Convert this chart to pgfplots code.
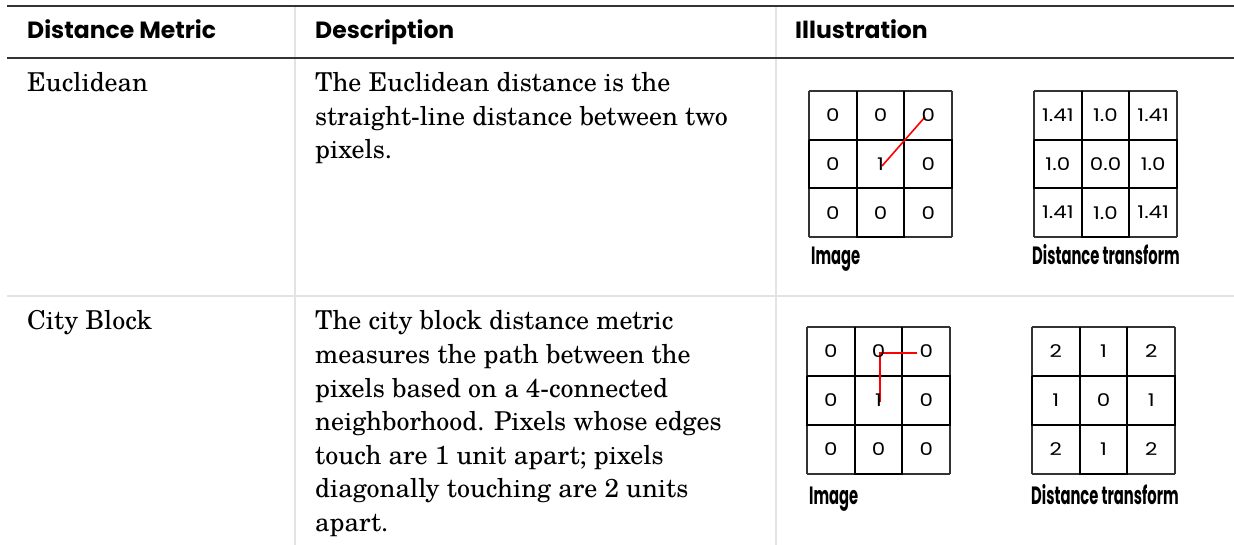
\documentclass[border=0pt]{standalone}
\usepackage{pgfplots}
\usepackage{pgfplotstable}
\pgfplotsset{compat=1.18}
\usepackage{fontspec}
\setmainfont{texgyreschola}[Extension=.otf,UprightFont=*-regular,BoldFont=*-bold,ItalicFont=*-italic,BoldItalicFont=*-bolditalic]
\newfontfamily\headfont{Poppins}
\newfontfamily\labfont{Poppins}[FakeStretch=0.59]
\newfontfamily\cellfont{Poppins}[FakeStretch=1.22]
\definecolor{rulec}{HTML}{333333}
\definecolor{sepc}{HTML}{E3E3E3}
\newcommand\desc{\fontsize{26}{33.5}\selectfont}
\newcommand\hd{\headfont\bfseries\fontsize{23.5}{26}\selectfont}
\newcommand\lab{\labfont\bfseries\fontsize{25}{28}\selectfont}

\pgfplotstableread{
x y lab
832.8 115.3 0
880.5 115.3 0
928.2 115.3 0
832.8 164.0 0
880.5 164.0 1
928.2 164.0 0
832.8 212.7 0
880.5 212.7 0
928.2 212.7 0
1057.8 115.3 1.41
1105.5 115.3 1.0
1153.2 115.3 1.41
1057.8 164.0 1.0
1105.5 164.0 0.0
1153.2 164.0 1.0
1057.8 212.7 1.41
1105.5 212.7 1.0
1153.2 212.7 1.41
830.8 351.5 0
878.5 351.5 0
926.2 351.5 0
830.8 400.5 0
878.5 400.5 1
926.2 400.5 0
830.8 449.5 0
878.5 449.5 0
926.2 449.5 0
1055.8 351.5 2
1103.5 351.5 1
1151.2 351.5 2
1055.8 400.5 1
1103.5 400.5 0
1151.2 400.5 1
1055.8 449.5 2
1103.5 449.5 1
1151.2 449.5 2
}\cells

\newcommand\grid[8]{%
 \addplot[black!80, line width=1.2pt] coordinates {(#1,#5) (#4,#5) (nan,nan) (#1,#6) (#4,#6) (nan,nan) (#1,#7) (#4,#7) (nan,nan) (#1,#8) (#4,#8) (nan,nan) (#1,#5) (#1,#8) (nan,nan) (#2,#5) (#2,#8) (nan,nan) (#3,#5) (#3,#8) (nan,nan) (#4,#5) (#4,#8)};
 \addplot[black, line width=2pt] coordinates {(#1,#6) (#4,#6) (#4,#7) (#1,#7) (#1,#6) (nan,nan) (#2,#5) (#2,#8) (#3,#8) (#3,#5)};
}

\begin{document}
\begin{tikzpicture}
\begin{axis}[
  scale only axis, width=1234pt, height=545pt,
  xmin=0, xmax=1234, ymin=0, ymax=545, y dir=reverse,
  hide axis, clip=false, unbounded coords=jump,
]
\addplot[draw=none] coordinates {(0,0) (1234,545)};
% rules
\addplot[sepc, line width=1.5pt] coordinates {(295,6) (295,545) (nan,nan) (776,6) (776,545)};
\addplot[sepc, line width=2pt] coordinates {(7,296) (1234,296)};
\addplot[rulec, line width=2pt] coordinates {(7,6) (1234,6) (nan,nan) (7,58) (1234,58)};
% grids
\grid{809}{856.7}{904.3}{952}{91}{139.7}{188.3}{237}
\grid{1034}{1081.7}{1129.3}{1177}{91}{139.7}{188.3}{237}
\grid{807}{854.7}{902.3}{950}{327}{376}{425}{474}
\grid{1032}{1079.7}{1127.3}{1175}{327}{376}{425}{474}
% red paths
\addplot[red, line width=1.6pt] coordinates {(882,166) (925,117)};
\addplot[red, line width=1.6pt] coordinates {(880,402) (880,353) (917,353)};
% cell values
\addplot[only marks, mark=none, point meta=explicit symbolic,
  nodes near coords={\cellfont\fontsize{17.5}{20}\selectfont\pgfplotspointmeta},
  nodes near coords style={anchor=center, inner sep=0pt}]
  table[x=x, y=y, meta=lab] {\cells};
% header
\node[anchor=base west, inner sep=0pt] at (axis cs:27,39) {\hd Distance Metric};
\node[anchor=base west, inner sep=0pt] at (axis cs:315,39) {\hd Description};
\node[anchor=base west, inner sep=0pt] at (axis cs:795,39) {\hd Illustration};
% row 1
\node[anchor=base west, inner sep=0pt] at (axis cs:27,92) {\desc Euclidean};
\node[anchor=base west, inner sep=0pt] at (axis cs:315,92) {\desc The Euclidean distance is the};
\node[anchor=base west, inner sep=0pt] at (axis cs:315,125.5) {\desc straight-line distance between two};
\node[anchor=base west, inner sep=0pt] at (axis cs:315,159) {\desc pixels.};
\node[anchor=base west, inner sep=0pt] at (axis cs:811,265) {\lab Image};
\node[anchor=base west, inner sep=0pt] at (axis cs:1032,265) {\lab Distance transform};
% row 2
\node[anchor=base west, inner sep=0pt] at (axis cs:27,330) {\desc City Block};
\node[anchor=base west, inner sep=0pt] at (axis cs:315,330) {\desc The city block distance metric};
\node[anchor=base west, inner sep=0pt] at (axis cs:315,363.5) {\desc measures the path between the};
\node[anchor=base west, inner sep=0pt] at (axis cs:315,397) {\desc pixels based on a 4-connected};
\node[anchor=base west, inner sep=0pt] at (axis cs:315,430.5) {\desc neighborhood. Pixels whose edges};
\node[anchor=base west, inner sep=0pt] at (axis cs:315,464) {\desc touch are 1 unit apart; pixels};
\node[anchor=base west, inner sep=0pt] at (axis cs:315,497.5) {\desc diagonally touching are 2 units};
\node[anchor=base west, inner sep=0pt] at (axis cs:315,531) {\desc apart.};
\node[anchor=base west, inner sep=0pt] at (axis cs:809,504) {\lab Image};
\node[anchor=base west, inner sep=0pt] at (axis cs:1031,504) {\lab Distance transform};
\end{axis}
\pgfresetboundingbox
\path (current axis.south west) rectangle (current axis.north east);
\end{tikzpicture}
\end{document}
